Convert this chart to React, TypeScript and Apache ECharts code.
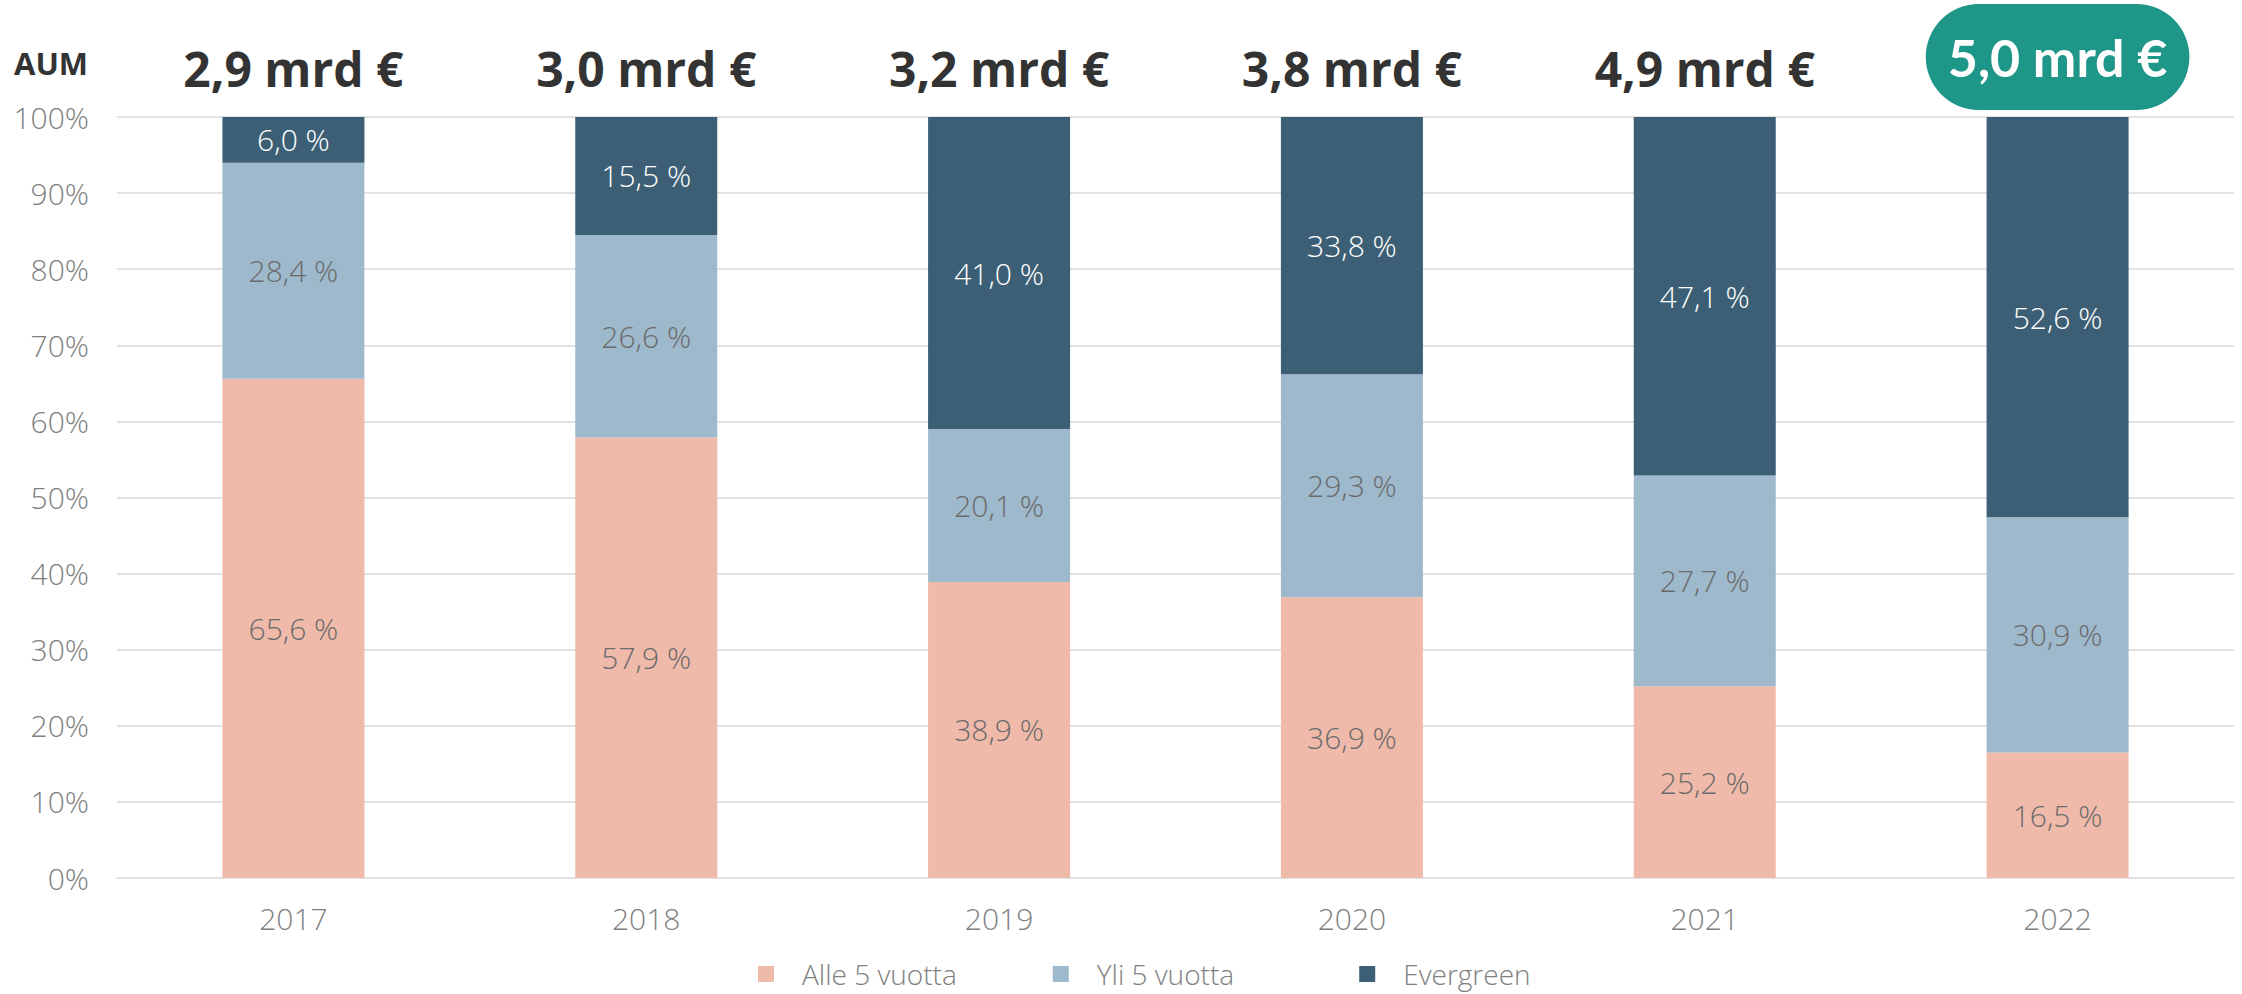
import React, { useEffect, useRef } from "react";
import * as echarts from "echarts";

const years = ["2017", "2018", "2019", "2020", "2021", "2022"];
const aumTotals = [2.9, 3.0, 3.2, 3.8, 4.9, 5.0];
const alle5 = [65.6, 57.9, 38.9, 36.9, 25.2, 16.5];
const yli5 = [28.4, 26.6, 20.1, 29.3, 27.7, 30.9];
const evergreen = [6.0, 15.5, 41.0, 33.8, 47.1, 52.6];
const seriesNames = ["Alle 5 vuotta", "Yli 5 vuotta", "Evergreen"];
const highlightIndex = 5;

const FONT = "'Open Sans', 'Noto Sans', sans-serif";
const fmt = (v: number) => v.toFixed(1).replace(".", ",");

export default function App() {
  const ref = useRef<HTMLDivElement>(null);
  useEffect(() => {
    if (!ref.current) return;
    const chart = echarts.init(ref.current, undefined, { renderer: "svg" });
    const labelStyle = (color: string) => ({
      show: true,
      position: "inside" as const,
      color,
      fontFamily: FONT,
      fontWeight: 300,
      fontSize: 30,
      formatter: (p: any) => fmt(p.value) + " %",
    });
    const totalLabels = aumTotals.map((v) => fmt(v) + " mrd €");
    const legendTrail: Record<string, string> = { "Yli 5 vuotta": "\u00a0\u00a0\u00a0\u00a0" };
    chart.setOption({
      animation: false,
      textStyle: { fontFamily: FONT },
      grid: { left: 117, right: 8, top: 117, bottom: 116 },
      graphic: [
        {
          type: "text",
          left: 14,
          top: 47,
          style: {
            text: "AUM",
            fontFamily: FONT,
            fontWeight: "bold",
            fontSize: 31,
            fill: "#333333",
          },
        },
      ],
      legend: {
        left: 753,
        top: 955,
        itemWidth: 16,
        itemHeight: 16,
        itemGap: 96,
        icon: "rect",
        data: seriesNames,
        formatter: (name: string) => name + (legendTrail[name] || ""),
        textStyle: {
          color: "#808080",
          fontFamily: FONT,
          fontWeight: 300,
          fontSize: 28,
          padding: [0, 0, 0, 23],
        },
      },
      xAxis: [
        {
          type: "category",
          data: years,
          axisLine: { show: true, lineStyle: { color: "#e2e2e2", width: 2 } },
          axisTick: { show: false },
          axisLabel: {
            color: "#7f7f7f",
            fontFamily: FONT,
            fontWeight: 300,
            fontSize: 30,
            margin: 25,
          },
        },
        {
          type: "category",
          position: "top",
          data: totalLabels,
          axisLine: { show: false },
          axisTick: { show: false },
          axisLabel: {
            margin: 7,
            formatter: (val: string, idx: number) =>
              idx === highlightIndex ? "{b|" + val + "}" : "{n|" + val + "}",
            rich: {
              n: {
                fontFamily: FONT,
                fontWeight: "bold",
                fontSize: 48,
                color: "#333333",
                lineHeight: 84,
              },
              b: {
                fontFamily: "Lato, 'Open Sans', sans-serif",
                fontWeight: "bold",
                fontSize: 52,
                color: "#ffffff",
                lineHeight: 106,
                backgroundColor: "#1e9688",
                borderRadius: 53,
                padding: [27, 22, 27, 22],
              },
            },
          },
        },
      ],
      yAxis: {
        type: "value",
        min: 0,
        max: 100,
        interval: 10,
        axisLine: { show: false },
        axisTick: { show: false },
        splitLine: { lineStyle: { color: "#e2e2e2", width: 2 } },
        axisLabel: {
          formatter: "{value}%",
          color: "#7f7f7f",
          fontFamily: FONT,
          fontWeight: 300,
          fontSize: 30,
          margin: 28,
        },
      },
      series: [
        {
          name: seriesNames[0],
          type: "bar",
          stack: "total",
          barWidth: 142,
          data: alle5,
          itemStyle: { color: "#f0baaa" },
          label: labelStyle("#6b6b6b"),
        },
        {
          name: seriesNames[1],
          type: "bar",
          stack: "total",
          barWidth: 142,
          data: yli5,
          itemStyle: { color: "#9eb9cc" },
          label: labelStyle("#6b6b6b"),
        },
        {
          name: seriesNames[2],
          type: "bar",
          stack: "total",
          barWidth: 142,
          data: evergreen,
          itemStyle: { color: "#3d5f75" },
          label: labelStyle("#ffffff"),
        },
      ],
    });
    return () => chart.dispose();
  }, []);
  return (
    <div
      ref={ref}
      style={{ position: "fixed", left: 0, top: 0, width: 2242, height: 994, background: "#ffffff" }}
    />
  );
}
